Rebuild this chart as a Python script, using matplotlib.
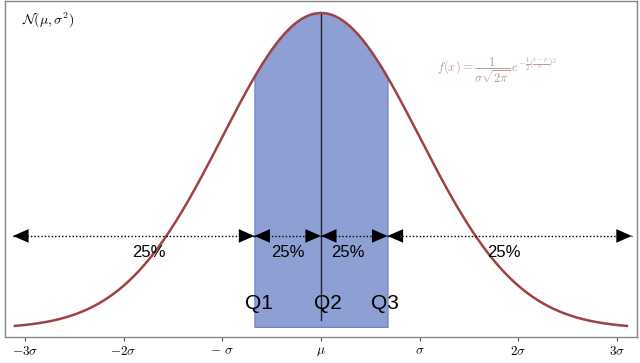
import numpy as np
import matplotlib
matplotlib.use("Agg")
import matplotlib.pyplot as plt
from matplotlib.patches import FancyArrowPatch

plt.rcParams['mathtext.fontset'] = 'cm'
plt.rcParams['font.family'] = ['Liberation Sans', 'DejaVu Sans']

# Data
tick_positions = [-3, -2, -1, 0, 1, 2, 3]
tick_labels = [r'$-3\sigma$', r'$-2\sigma$', r'$-\ \sigma$', r'$\mu$', r'$\sigma$', r'$2\sigma$', r'$3\sigma$']
quartiles = [-0.6745, 0.0, 0.6745]
quartile_labels = ['Q1', 'Q2', 'Q3']
segment_bounds = [-3.12, -0.6745, 0.0, 0.6745, 3.15]
segment_labels = ['25%', '25%', '25%', '25%']
segment_label_x = [-1.74, -0.34, 0.27, 1.85]
curve_range = (-3.1, 3.1)

def pdf(x):
    return np.exp(-0.5 * x**2) / np.sqrt(2 * np.pi)

fig = plt.figure(figsize=(6.4, 3.63), dpi=100)
ax = fig.add_axes([0.008, 0.072, 0.987, 0.924])

x = np.linspace(curve_range[0], curve_range[1], 600)
xs = np.linspace(quartiles[0], quartiles[2], 300)
ax.fill_between(xs, 0.002, pdf(xs), color='#8e9fd4', edgecolor='#6f80c0', linewidth=0.8, zorder=1)
ax.plot(x, pdf(x), color='#9e4242', linewidth=1.8, zorder=3)
ax.plot([quartiles[1], quartiles[1]], [0.011, pdf(quartiles[1])], color='#222233', linewidth=1.0, zorder=2)

arrow_y = 0.117
for a, b in zip(segment_bounds[:-1], segment_bounds[1:]):
    ax.plot([a, b], [arrow_y, arrow_y], linestyle=(0, (1, 1.5)), color='black', linewidth=1.0, zorder=4)
    p = FancyArrowPatch((a, arrow_y), (b, arrow_y), arrowstyle='<|-|>,head_length=0.8,head_width=0.35',
                        mutation_scale=14, color='black', linewidth=0, shrinkA=0, shrinkB=0, zorder=5)
    ax.add_patch(p)

for xl, lab in zip(segment_label_x, segment_labels):
    ax.text(xl, 0.096, lab, fontsize=12, ha='center', va='center', zorder=6)

q_x = [-0.63, 0.07, 0.65]
for xq, lab in zip(q_x, quartile_labels):
    ax.text(xq, 0.031, lab, fontsize=15, ha='center', va='center', zorder=6)

ax.text(-3.03, 0.39, r'$\mathcal{N}(\mu,\sigma^2)$', fontsize=10, ha='left', va='center')
ax.text(1.18, 0.327, r'$f(x)=\dfrac{1}{\sigma\sqrt{2\pi}}\,e^{-\frac{1}{2}\left(\frac{x-\mu}{\sigma}\right)^2}$',
        fontsize=9, ha='left', va='center', color='#c09a9a')

ax.set_xlim(-3.2, 3.2)
ax.set_ylim(-0.0106, 0.4135)
ax.set_xticks(tick_positions)
ax.set_xticklabels(tick_labels, fontsize=9.5)
ax.set_yticks([])
ax.tick_params(axis='x', direction='out', length=3, color='#555555', pad=3)
for s in ax.spines.values():
    s.set_color('#888888')
    s.set_linewidth(1.0)

fig.savefig('out.png', dpi=100)
